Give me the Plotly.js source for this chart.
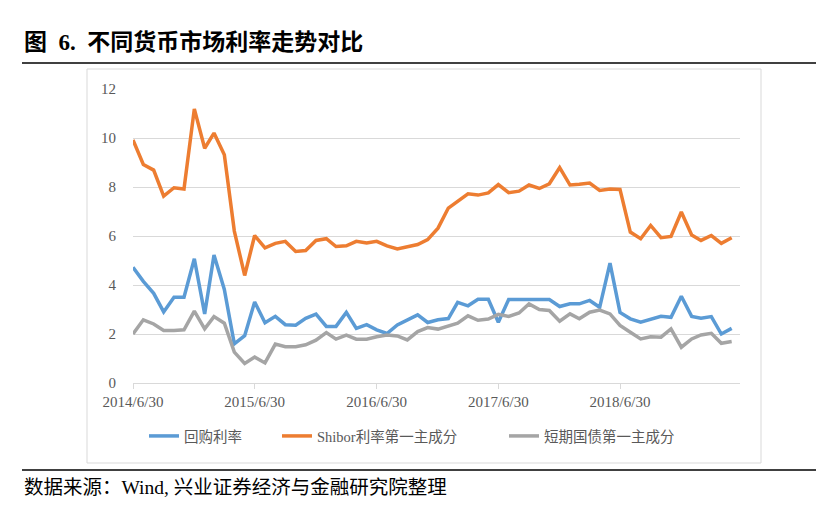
<!DOCTYPE html>
<html>
<head>
<meta charset="utf-8">
<script src="https://cdn.plot.ly/plotly-3.0.1.min.js"></script>
<style>
html,body{margin:0;padding:0;background:#fff;}
#chart{width:830px;height:510px;}
</style>
</head>
<body>
<div id="chart"></div>
<script>
// Month-end dates (category axis values)
var dates = [
 "2014-06-30","2014-07-31","2014-08-31","2014-09-30","2014-10-31","2014-11-30","2014-12-31",
 "2015-01-31","2015-02-28","2015-03-31","2015-04-30","2015-05-31","2015-06-30","2015-07-31",
 "2015-08-31","2015-09-30","2015-10-31","2015-11-30","2015-12-31","2016-01-31","2016-02-29",
 "2016-03-31","2016-04-30","2016-05-31","2016-06-30","2016-07-31","2016-08-31","2016-09-30",
 "2016-10-31","2016-11-30","2016-12-31","2017-01-31","2017-02-28","2017-03-31","2017-04-30",
 "2017-05-31","2017-06-30","2017-07-31","2017-08-31","2017-09-30","2017-10-31","2017-11-30",
 "2017-12-31","2018-01-31","2018-02-28","2018-03-31","2018-04-30","2018-05-31","2018-06-30",
 "2018-07-31","2018-08-31","2018-09-30","2018-10-31","2018-11-30","2018-12-31","2019-01-31",
 "2019-02-28","2019-03-31","2019-04-30","2019-05-31"
];

var repoRate = [4.72,4.15,3.66,2.90,3.50,3.50,5.07,2.82,5.22,3.82,1.60,1.93,3.31,2.46,2.72,2.38,2.36,2.64,2.81,2.31,
 2.31,2.88,2.23,2.38,2.17,2.02,2.37,2.56,2.78,2.47,2.58,2.63,3.29,3.15,3.42,3.42,2.48,3.41,3.41,3.38,
 3.41,3.41,3.12,3.23,3.23,3.37,3.09,4.89,2.88,2.62,2.48,2.59,2.72,2.68,3.54,2.72,2.64,2.71,2.00,2.23];

var shiborPC1 = [9.92,8.92,8.69,7.63,7.97,7.92,11.19,9.58,10.20,9.32,6.20,4.39,6.02,5.52,5.70,5.78,5.37,5.41,5.82,5.89,
 5.57,5.60,5.78,5.72,5.78,5.60,5.47,5.56,5.65,5.85,6.32,7.14,7.42,7.72,7.67,7.76,8.10,7.77,7.83,8.08,
 7.94,8.13,8.79,8.08,8.11,8.16,7.86,7.92,7.90,6.16,5.89,6.43,5.93,5.98,6.98,6.04,5.82,6.02,5.70,5.93];

var billPC1 = [2.00,2.58,2.41,2.14,2.14,2.17,2.93,2.21,2.71,2.44,1.26,0.80,1.06,0.82,1.59,1.48,1.48,1.56,1.75,2.06,
 1.79,1.95,1.79,1.79,1.89,1.96,1.92,1.76,2.10,2.26,2.20,2.31,2.44,2.74,2.56,2.61,2.80,2.72,2.86,3.23,
 3.00,2.96,2.52,2.82,2.62,2.89,2.98,2.82,2.35,2.07,1.80,1.89,1.87,2.21,1.46,1.80,1.96,2.03,1.62,1.69];

var seriesNames = ["回购利率","Shibor利率第一主成分","短期国债第一主成分"];
var tickDates = ["2014-06-30","2015-06-30","2016-06-30","2017-06-30","2018-06-30"];
var tickLabels = ["2014/6/30","2015/6/30","2016/6/30","2017/6/30","2018/6/30"];

var FONT = "'Liberation Serif','Noto Sans CJK SC',serif";
var colors = ["#5B9BD5","#ED7D31","#A5A5A5"];
var ys = [repoRate, shiborPC1, billPC1];
var legendIds = ["legend","legend2","legend3"];

var traces = ys.map(function(y,i){
  return {x: dates, y: y, type:"scatter", mode:"lines", name: seriesNames[i], legend: legendIds[i],
          line:{color: colors[i], width:3.5}, hoverinfo:"none"};
});

// plot area: left 133, right 740, top 89, bottom 383 (px)
var L=133, R=740, T=89, B=383, W=830, H=510;
function px(x){ return (x-L)/(R-L); }
function py(y){ return (B-y)/(B-T); }

function leg(xpx){
  return {orientation:"h", x:px(xpx), xanchor:"left", y:py(436), yanchor:"middle",
          font:{family:FONT, size:14.5, color:"#595959"}, itemwidth:30, bgcolor:"rgba(0,0,0,0)"};
}

var layout = {
  width: W, height: H,
  margin: {l:L, r:W-R, t:T, b:H-B, pad:0},
  paper_bgcolor:"#fff", plot_bgcolor:"#fff",
  font:{family:FONT, color:"#595959", size:15},
  showlegend:true,
  legend: leg(144), legend2: leg(277), legend3: leg(504),
  xaxis:{type:"date", range:["2014-06-30","2019-06-25"], tickvals: tickDates, ticktext: tickLabels,
         showgrid:false, showline:true, linecolor:"#d9d9d9", linewidth:1,
         ticks:"outside", ticklen:5, tickcolor:"#d9d9d9", tickfont:{size:15, color:"#595959"},
         zeroline:false, fixedrange:true},
  yaxis:{range:[0,12], dtick:2, tick0:0, showgrid:true, gridcolor:"#d9d9d9", gridwidth:1,
         zeroline:false, showline:false, ticks:"", tickfont:{size:15, color:"#595959"},
         ticklabelstandoff:16, fixedrange:true},
  shapes:[
    {type:"rect", xref:"paper", yref:"paper", x0:px(87), x1:px(761), y0:py(463), y1:py(69),
     line:{color:"#d9d9d9", width:1}, fillcolor:"rgba(0,0,0,0)", layer:"below"},
    {type:"line", xref:"paper", yref:"paper", x0:px(22), x1:px(816), y0:py(63), y1:py(63),
     line:{color:"#000", width:1.5}},
    {type:"line", xref:"paper", yref:"paper", x0:px(22), x1:px(816), y0:py(470), y1:py(470),
     line:{color:"#000", width:1.5}}
  ],
  annotations:[
    {xref:"paper", yref:"paper", x:px(22), y:py(42), xanchor:"left", yanchor:"middle", showarrow:false,
     text:"<b>图&nbsp;&nbsp;6.&nbsp;&nbsp;不同货币市场利率走势对比</b>", font:{family:FONT, size:23, color:"#000"}},
    {xref:"paper", yref:"paper", x:px(22), y:py(487), xanchor:"left", yanchor:"middle", showarrow:false,
     text:"数据来源：Wind, 兴业证券经济与金融研究院整理", font:{family:FONT, size:19.5, color:"#000"}}
  ]
};

Plotly.newPlot("chart", traces, layout, {displayModeBar:false, staticPlot:true});
</script>
</body>
</html>
